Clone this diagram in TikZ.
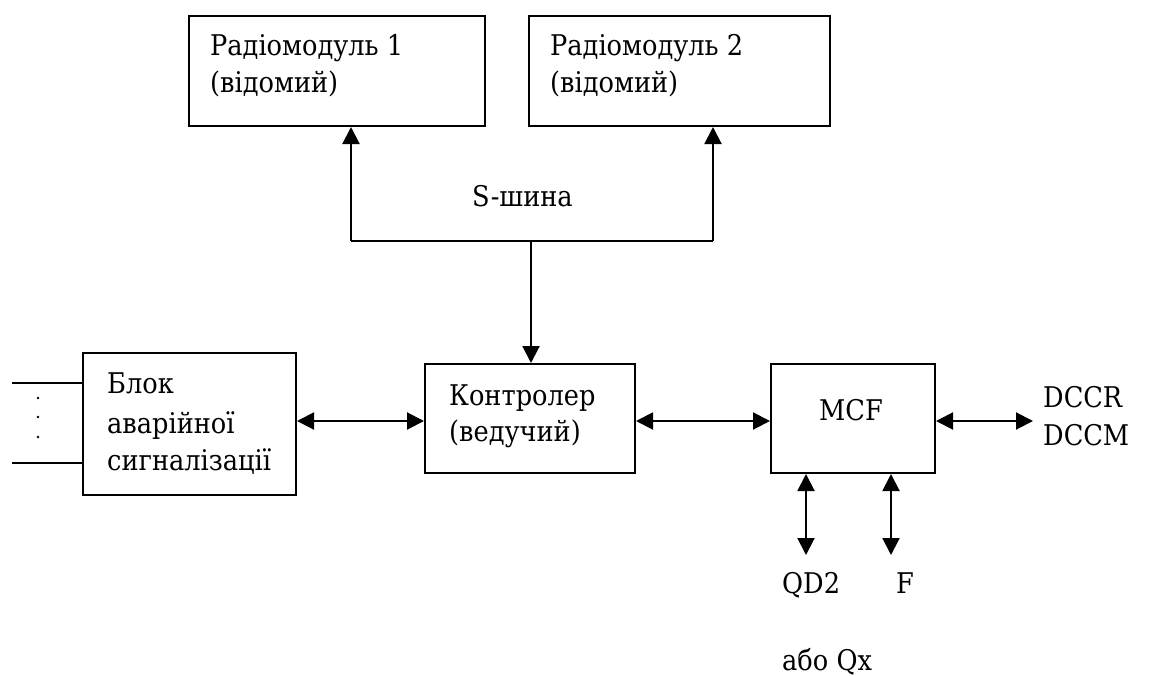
\documentclass[tikz,border=0pt]{standalone}
\usepackage{fontspec}
\setmainfont{DejaVu Serif Condensed}
\usetikzlibrary{arrows.meta}
\begin{document}
\begin{tikzpicture}[x=1pt,y=-1pt,
  blk/.style={draw,line width=2pt,anchor=north west,inner sep=0pt},
  lbl/.style={anchor=base west,font=\fontsize{28.5}{34}\selectfont,inner sep=0pt},
  conn/.style={line width=2pt},
  tip/.tip={Triangle[length=17pt,width=17pt]},
  biarrow/.style={conn,tip-tip},
  uparrow/.style={conn,-tip}]
\useasboundingbox (0,0) rectangle (1153,675);
\fill[white] (0,0) rectangle (1153,675);

% blocks
\node[blk,minimum width=296pt,minimum height=110pt] (r1) at (188,15) {};
\node[blk,minimum width=301pt,minimum height=110pt] (r2) at (528,15) {};
\node[blk,minimum width=210pt,minimum height=109pt] (ctl) at (424,363) {};
\node[blk,minimum width=213pt,minimum height=142pt] (alarm) at (82,352) {};
\node[blk,minimum width=164pt,minimum height=109pt] (mcf) at (770,363) {};

% block texts
\node[lbl] (r1a) at (210,55) {Радіомодуль 1};
\node[lbl] (r1b) at (210,92) {(відомий)};
\node[lbl] (r2a) at (550,55) {Радіомодуль 2};
\node[lbl] (r2b) at (550,92) {(відомий)};
\node[lbl] (ctla) at (449,405) {Контролер};
\node[lbl] (ctlb) at (449,441) {(ведучий)};
\node[lbl] (ala) at (107,393) {Блок};
\node[lbl] (alb) at (107,433) {аварійної};
\node[lbl] (alc) at (107,470) {сигналізації};
\node[lbl] (mcft) at (819,420) {MCF};

% free labels
\node[lbl] (bus) at (472,206) {S-шина};
\node[lbl] (dcca) at (1043,407) {DCCR};
\node[lbl] (dccb) at (1043,445) {DCCM};
\node[lbl] (qd) at (782,593) {QD2};
\node[lbl] (f) at (896,593) {F};
\node[lbl] (abo) at (782,670) {або Qx};

% S-bus
\coordinate (b1) at (351,241);
\coordinate (b2) at (713,241);
\coordinate (bm) at (531,241);
\draw[conn] (b1) -- (b2);
\draw[uparrow] (b1) -- (b1 |- r1.south);
\draw[uparrow] (b2) -- (b2 |- r2.south);
\draw[uparrow] (bm) -- (bm |- ctl.north);

% horizontal links
\coordinate (hy) at (0,421);
\draw[biarrow] (alarm.east |- hy) -- (ctl.west |- hy);
\draw[biarrow] (ctl.east |- hy) -- (mcf.west |- hy);
\coordinate (dccend) at (1033,421);
\draw[biarrow] (mcf.east |- hy) -- (dccend);

% MCF downward links
\coordinate (qend) at (806,555);
\coordinate (fend) at (891,555);
\draw[biarrow] (qend |- mcf.south) -- (qend);
\draw[biarrow] (fend |- mcf.south) -- (fend);

% alarm inputs
\coordinate (in1) at (12,383);
\coordinate (in2) at (12,463);
\draw[conn] (in1) -- (alarm.west |- in1);
\draw[conn] (in2) -- (alarm.west |- in2);
\foreach \yy in {398,417,437} \fill (38,\yy) circle (1.3pt);
\end{tikzpicture}
\end{document}
